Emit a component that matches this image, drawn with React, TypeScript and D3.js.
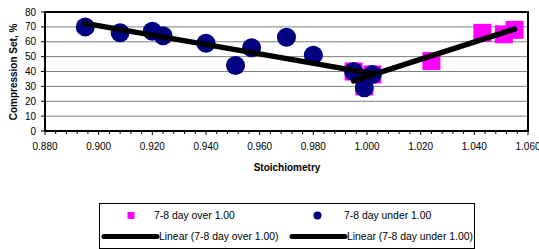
import React from 'react';
import * as d3 from 'd3';

// 7-8 day over 1.00 (magenta squares)
const overX = [0.995, 0.999, 1.002, 1.024, 1.043, 1.051, 1.055];
const overY = [40, 30, 38, 47, 66, 65, 68];
// 7-8 day under 1.00 (navy circles)
const underX = [0.895, 0.908, 0.920, 0.924, 0.940, 0.951, 0.957, 0.970, 0.980, 0.995, 0.999, 1.002];
const underY = [70, 66, 67, 64, 59, 44, 56, 63, 51, 40, 29, 38];

const xTicks = [0.88, 0.9, 0.92, 0.94, 0.96, 0.98, 1.0, 1.02, 1.04, 1.06];
const yTicks = [0, 10, 20, 30, 40, 50, 60, 70, 80];

const W = 539;
const H = 249;
const PLOT = { left: 45, right: 528, top: 12, bottom: 131 };
const FONT = 'Arial, "Liberation Sans", sans-serif';

// least squares trend line over the series' x range
function fit(xs: number[], ys: number[]) {
  const mx = d3.mean(xs)!;
  const my = d3.mean(ys)!;
  let sxy = 0, sxx = 0;
  xs.forEach((x, i) => {
    sxy += (x - mx) * (ys[i] - my);
    sxx += (x - mx) * (x - mx);
  });
  const slope = sxy / sxx;
  const [x0, x1] = d3.extent(xs) as [number, number];
  return [
    [x0, my + slope * (x0 - mx)],
    [x1, my + slope * (x1 - mx)],
  ];
}

export default function App() {
  const x = d3.scaleLinear().domain([0.88, 1.06]).range([PLOT.left, PLOT.right]);
  const y = d3.scaleLinear().domain([0, 80]).range([PLOT.bottom, PLOT.top]);
  const minorX = d3.range(0, 46).map((i) => 0.88 + i * 0.004);
  const line = d3.line<number[]>().x((d) => x(d[0])).y((d) => y(d[1]));
  const overFit = fit(overX, overY);
  const underFit = fit(underX, underY);

  return (
    <svg width={W} height={H} style={{ display: 'block', fontFamily: FONT }}>
      <style>{'body{margin:0}'}</style>
      <rect x={0} y={0} width={W} height={H} fill="#fff" />

      {/* gridlines */}
      {yTicks.filter((t) => t > 0 && t < 80).map((t) => (
        <line key={t} x1={PLOT.left} x2={PLOT.right} y1={y(t)} y2={y(t)} stroke="#808080" strokeWidth={1} />
      ))}

      {/* y axis */}
      {yTicks.map((t) => (
        <g key={t}>
          <line x1={PLOT.left - 4} x2={PLOT.left} y1={y(t)} y2={y(t)} stroke="#000" />
          <text x={36} y={y(t)} dy="0.35em" textAnchor="end" fontSize={10} fill="#000">{t}</text>
        </g>
      ))}

      {/* x axis */}
      {minorX.map((t, i) => (
        <line key={i} x1={x(t)} x2={x(t)} y1={PLOT.bottom} y2={PLOT.bottom + (i % 5 === 0 ? 4 : 3)} stroke="#000" />
      ))}
      {xTicks.map((t) => (
        <text key={t} x={x(t)} y={150} textAnchor="middle" fontSize={10} fill="#000">{d3.format('.3f')(t)}</text>
      ))}

      <rect x={PLOT.left} y={PLOT.top} width={PLOT.right - PLOT.left} height={PLOT.bottom - PLOT.top}
        fill="none" stroke="#000" strokeWidth={2} />

      {overX.map((v, i) => (
        <rect key={'o' + i} x={x(v) - 9} y={y(overY[i]) - 9} width={18} height={18} fill="#ff00ff" />
      ))}
      {underX.map((v, i) => (
        <circle key={'u' + i} cx={x(v)} cy={y(underY[i])} r={9.5} fill="#000080" />
      ))}

      <path d={line(overFit)!} stroke="#000" strokeWidth={5.5} strokeLinecap="round" fill="none" />
      <path d={line(underFit)!} stroke="#000" strokeWidth={5.5} strokeLinecap="round" fill="none" />

      <text x={287} y={171} textAnchor="middle" fontSize={10} fontWeight="bold" fill="#000">Stoichiometry</text>
      <text transform="translate(17,72) rotate(-90)" textAnchor="middle" fontSize={10} fontWeight="bold" fill="#000">
        Compression Set, %
      </text>

      {/* legend */}
      <rect x={99.5} y={203.5} width={375} height={45} fill="#fff" stroke="#000" strokeWidth={1} />
      <rect x={127.5} y={212} width={7} height={7} fill="#ff00ff" />
      <text x={154} y={215.5} dy="0.35em" fontSize={10.4} fill="#000">7-8 day over 1.00</text>
      <circle cx={317.5} cy={215.5} r={4} fill="#000080" />
      <text x={344} y={215.5} dy="0.35em" fontSize={10.4} fill="#000">7-8 day under 1.00</text>
      <line x1={104} x2={157} y1={236.5} y2={236.5} stroke="#000" strokeWidth={5} strokeLinecap="round" />
      <text x={159} y={236.5} dy="0.35em" fontSize={10.4} fill="#000">Linear (7-8 day over 1.00)</text>
      <line x1={292} x2={345} y1={236.5} y2={236.5} stroke="#000" strokeWidth={5} strokeLinecap="round" />
      <text x={347} y={236.5} dy="0.35em" fontSize={10.4} fill="#000">Linear (7-8 day under 1.00)</text>
    </svg>
  );
}
